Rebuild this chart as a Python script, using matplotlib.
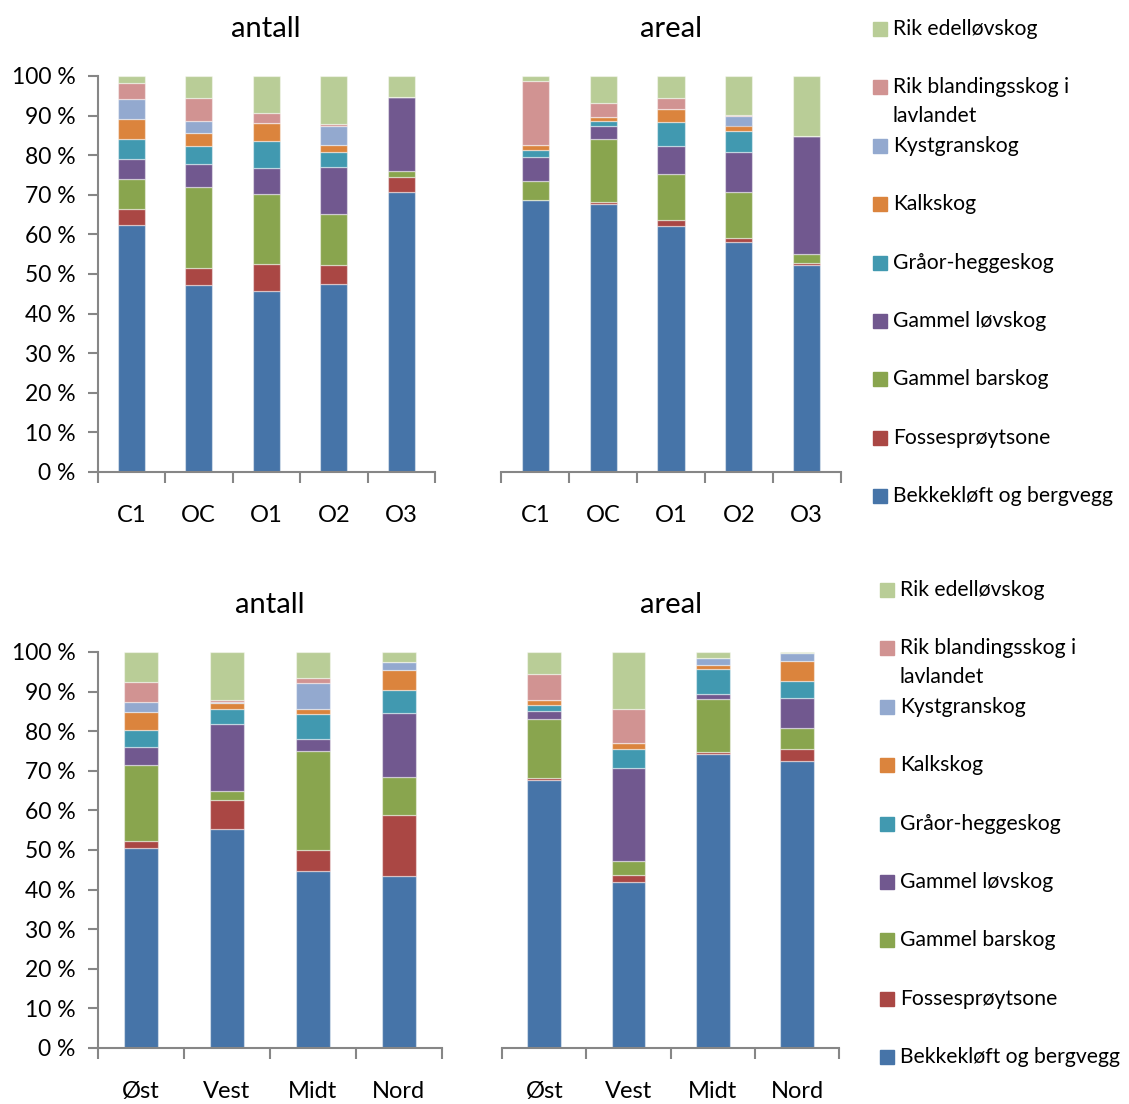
import numpy as np
import matplotlib
matplotlib.use("Agg")
import matplotlib.pyplot as plt
from matplotlib.patches import Rectangle

plt.rcParams["font.family"] = ["Lato", "DejaVu Sans"]

cats_top = ["C1", "OC", "O1", "O2", "O3"]
cats_bot = ["Øst", "Vest", "Midt", "Nord"]

# stack order, bottom to top
series = ["Bekkekløft og bergvegg", "Fossesprøytsone", "Gammel barskog",
          "Gammel løvskog", "Gråor-heggeskog", "Kalkskog", "Kystgranskog",
          "Rik blandingsskog i\nlavlandet", "Rik edelløvskog"]
colors = ["#4674A8", "#AA4744", "#89A54E", "#71588F", "#4199B0",
          "#DB843D", "#93A9CF", "#D19392", "#B9CD97"]

# percent per series (rows) and category (columns)
top_antall = [
    [62.3, 47.1, 45.6, 47.6, 70.6],
    [4.0, 4.5, 7.0, 4.6, 4.0],
    [7.7, 20.4, 17.6, 12.9, 1.4],
    [5.0, 5.9, 6.5, 12.0, 18.6],
    [5.0, 4.5, 6.8, 3.8, 0.0],
    [5.1, 3.3, 4.7, 1.8, 0.0],
    [5.0, 2.9, 0.0, 4.7, 0.0],
    [4.2, 5.9, 2.5, 0.5, 0.0],
    [1.7, 5.5, 9.3, 12.1, 5.4],
]
top_areal = [
    [68.8, 67.8, 62.0, 58.0, 52.3],
    [0.0, 0.5, 1.6, 1.2, 0.4],
    [4.8, 15.7, 11.7, 11.4, 2.4],
    [6.0, 3.5, 6.9, 10.3, 29.7],
    [1.8, 1.1, 6.1, 5.3, 0.0],
    [1.3, 1.0, 3.3, 1.3, 0.0],
    [0.0, 0.0, 0.0, 2.4, 0.0],
    [16.1, 3.7, 2.9, 0.3, 0.0],
    [1.2, 6.7, 5.5, 9.8, 15.2],
]
bot_antall = [
    [50.5, 55.3, 44.7, 43.5],
    [1.8, 7.4, 5.2, 15.4],
    [19.2, 2.1, 25.0, 9.5],
    [4.4, 16.9, 3.1, 16.1],
    [4.3, 4.0, 6.4, 6.0],
    [4.7, 1.3, 1.2, 5.0],
    [2.4, 0.4, 6.5, 1.9],
    [5.2, 0.5, 1.3, 0.0],
    [7.5, 12.1, 6.6, 2.6],
]
bot_areal = [
    [67.8, 42.0, 74.3, 72.4],
    [0.3, 1.6, 0.5, 3.0],
    [14.9, 3.7, 13.3, 5.4],
    [2.0, 23.3, 1.4, 7.7],
    [1.5, 4.9, 6.2, 4.1],
    [1.5, 1.4, 1.0, 5.1],
    [0.0, 0.0, 1.7, 2.0],
    [6.4, 8.8, 0.0, 0.0],
    [5.6, 14.3, 1.6, 0.3],
]

W, H = 1129, 1104
fig = plt.figure(figsize=(W / 100, H / 100), dpi=100)
axcol = "#868686"


def stacked(rect, cats, data, title, yaxis):
    ax = fig.add_axes(rect)
    x = np.arange(len(cats))
    bottom = np.zeros(len(cats))
    for vals, c in zip(data, colors):
        vals = np.array(vals)
        ax.bar(x, vals, 0.4, bottom=bottom, color=c,
               edgecolor=(1, 1, 1, 0.45), linewidth=0.9)
        bottom += vals
    ax.set_xlim(-0.5, len(cats) - 0.5)
    ax.set_ylim(0, 100)
    for s in ["top", "right"]:
        ax.spines[s].set_visible(False)
    ax.spines["bottom"].set_color(axcol)
    ax.spines["bottom"].set_linewidth(1.5)
    ax.set_xticks(x)
    ax.set_xticklabels(cats, fontsize=17)
    ax.tick_params(axis="x", which="major", length=0, pad=24)
    ax.set_xticks(np.arange(len(cats) + 1) - 0.5, minor=True)
    ax.tick_params(axis="x", which="minor", length=8, width=1.5,
                   color=axcol, direction="out")
    if yaxis:
        ax.spines["left"].set_color(axcol)
        ax.spines["left"].set_linewidth(1.5)
        ax.set_yticks(np.arange(0, 101, 10))
        ax.set_yticklabels([f"{v} %" for v in range(0, 101, 10)], fontsize=16.5)
        ax.tick_params(axis="y", length=7, width=1.5, color=axcol, pad=9)
    else:
        ax.spines["left"].set_visible(False)
        ax.set_yticks([])
    ax.set_title(title, fontsize=21, pad=28)
    return ax


stacked([97.5 / W, 1 - 472 / H, 337.5 / W, 396 / H], cats_top, top_antall, "antall", True)
stacked([501.4 / W, 1 - 472 / H, 339.2 / W, 396 / H], cats_top, top_areal, "areal", False)
stacked([98 / W, 1 - 1048 / H, 343.7 / W, 396 / H], cats_bot, bot_antall, "antall", True)
stacked([502.2 / W, 1 - 1048 / H, 336.9 / W, 396 / H], cats_bot, bot_areal, "areal", False)


def legend(x0, y0):
    # Excel-style legend: equal slots, handle aligned with first line
    step = 58.4
    for i, (name, c) in enumerate(zip(series[::-1], colors[::-1])):
        yc = y0 + i * step
        fig.patches.append(Rectangle(((x0) / W, 1 - (yc + 7) / H), 14 / W, 14 / H,
                                     transform=fig.transFigure, color=c))
        fig.text((x0 + 20) / W, 1 - yc / H, name.split("\n")[0],
                 fontsize=15.2, va="center", ha="left")
        if "\n" in name:
            fig.text((x0 + 20) / W, 1 - (yc + 29) / H, name.split("\n")[1],
                     fontsize=15.2, va="center", ha="left")


legend(873, 29)
legend(880, 590)

fig.savefig("out.png", dpi=100)
